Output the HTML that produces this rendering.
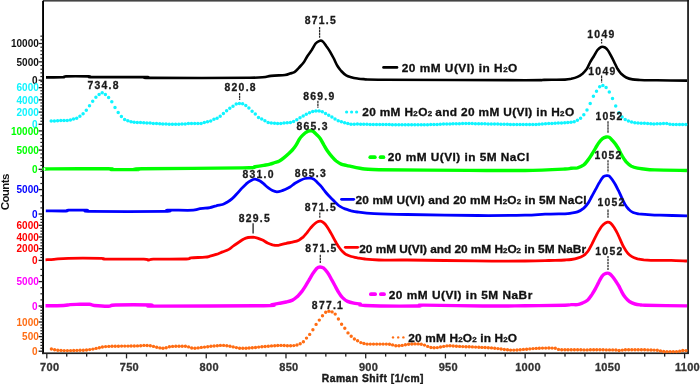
<!DOCTYPE html>
<html><head><meta charset="utf-8"><style>
html,body{margin:0;padding:0;background:#fff;width:700px;height:384px;overflow:hidden}
svg{display:block;font-family:"Liberation Sans",sans-serif;font-weight:bold;will-change:transform}
</style></head><body>
<svg width="700" height="384" viewBox="0 0 700 384">
<rect width="700" height="384" fill="#fff"/>
<rect x="43" y="0" width="645.9" height="1.6" fill="#444"/>
<rect x="42.1" y="0.8" width="1.9" height="353.3" fill="#000"/>
<rect x="687.2" y="0" width="1.7" height="354" fill="#111"/>
<rect x="42.1" y="352.4" width="646.8" height="1.7" fill="#222"/>
<rect x="46.15" y="354" width="1.3" height="4.4" fill="#222"/>
<rect x="66.08" y="354" width="1.3" height="2.6" fill="#222"/>
<rect x="86.01" y="354" width="1.3" height="2.6" fill="#222"/>
<rect x="105.94" y="354" width="1.3" height="2.6" fill="#222"/>
<rect x="125.87" y="354" width="1.3" height="4.4" fill="#222"/>
<rect x="145.81" y="354" width="1.3" height="2.6" fill="#222"/>
<rect x="165.74" y="354" width="1.3" height="2.6" fill="#222"/>
<rect x="185.67" y="354" width="1.3" height="2.6" fill="#222"/>
<rect x="205.60" y="354" width="1.3" height="4.4" fill="#222"/>
<rect x="225.53" y="354" width="1.3" height="2.6" fill="#222"/>
<rect x="245.46" y="354" width="1.3" height="2.6" fill="#222"/>
<rect x="265.39" y="354" width="1.3" height="2.6" fill="#222"/>
<rect x="285.33" y="354" width="1.3" height="4.4" fill="#222"/>
<rect x="305.26" y="354" width="1.3" height="2.6" fill="#222"/>
<rect x="325.19" y="354" width="1.3" height="2.6" fill="#222"/>
<rect x="345.12" y="354" width="1.3" height="2.6" fill="#222"/>
<rect x="365.05" y="354" width="1.3" height="4.4" fill="#222"/>
<rect x="384.98" y="354" width="1.3" height="2.6" fill="#222"/>
<rect x="404.91" y="354" width="1.3" height="2.6" fill="#222"/>
<rect x="424.84" y="354" width="1.3" height="2.6" fill="#222"/>
<rect x="444.78" y="354" width="1.3" height="4.4" fill="#222"/>
<rect x="464.71" y="354" width="1.3" height="2.6" fill="#222"/>
<rect x="484.64" y="354" width="1.3" height="2.6" fill="#222"/>
<rect x="504.57" y="354" width="1.3" height="2.6" fill="#222"/>
<rect x="524.50" y="354" width="1.3" height="4.4" fill="#222"/>
<rect x="544.43" y="354" width="1.3" height="2.6" fill="#222"/>
<rect x="564.36" y="354" width="1.3" height="2.6" fill="#222"/>
<rect x="584.29" y="354" width="1.3" height="2.6" fill="#222"/>
<rect x="604.23" y="354" width="1.3" height="4.4" fill="#222"/>
<rect x="624.16" y="354" width="1.3" height="2.6" fill="#222"/>
<rect x="644.09" y="354" width="1.3" height="2.6" fill="#222"/>
<rect x="664.02" y="354" width="1.3" height="2.6" fill="#222"/>
<rect x="683.95" y="354" width="1.3" height="4.4" fill="#222"/>
<text x="49.7" y="371.0" font-size="11" fill="#333" text-anchor="middle" letter-spacing="0.3" stroke="#333" stroke-width="0.3">700</text>
<text x="129.4" y="371.0" font-size="11" fill="#333" text-anchor="middle" letter-spacing="0.3" stroke="#333" stroke-width="0.3">750</text>
<text x="209.2" y="371.0" font-size="11" fill="#333" text-anchor="middle" letter-spacing="0.3" stroke="#333" stroke-width="0.3">800</text>
<text x="288.9" y="371.0" font-size="11" fill="#333" text-anchor="middle" letter-spacing="0.3" stroke="#333" stroke-width="0.3">850</text>
<text x="368.6" y="371.0" font-size="11" fill="#333" text-anchor="middle" letter-spacing="0.3" stroke="#333" stroke-width="0.3">900</text>
<text x="448.3" y="371.0" font-size="11" fill="#333" text-anchor="middle" letter-spacing="0.3" stroke="#333" stroke-width="0.3">950</text>
<text x="528.0" y="371.0" font-size="11" fill="#333" text-anchor="middle" letter-spacing="0.3" stroke="#333" stroke-width="0.3">1000</text>
<text x="607.8" y="371.0" font-size="11" fill="#333" text-anchor="middle" letter-spacing="0.3" stroke="#333" stroke-width="0.3">1050</text>
<text x="687.5" y="371.0" font-size="11" fill="#333" text-anchor="middle" letter-spacing="0.3" stroke="#333" stroke-width="0.3">1100</text>
<text x="372.9" y="382.2" font-size="10.3" fill="#1a1a1a" text-anchor="middle" letter-spacing="0.5" stroke="#1a1a1a" stroke-width="0.4">Raman Shift [1/cm]</text>
<text transform="translate(9.1,192.3) rotate(-90)" font-size="11.5" fill="#111" text-anchor="middle" letter-spacing="-0.6">Counts</text>
<rect x="38.6" y="79.55" width="4" height="1.3" fill="#222"/>
<rect x="40.4" y="75.93" width="2.2" height="1.2" fill="#222"/>
<rect x="40.4" y="72.26" width="2.2" height="1.2" fill="#222"/>
<rect x="40.4" y="68.59" width="2.2" height="1.2" fill="#222"/>
<rect x="40.4" y="64.92" width="2.2" height="1.2" fill="#222"/>
<rect x="38.6" y="61.20" width="4" height="1.3" fill="#222"/>
<rect x="40.4" y="57.58" width="2.2" height="1.2" fill="#222"/>
<rect x="40.4" y="53.91" width="2.2" height="1.2" fill="#222"/>
<rect x="40.4" y="50.24" width="2.2" height="1.2" fill="#222"/>
<rect x="40.4" y="46.57" width="2.2" height="1.2" fill="#222"/>
<rect x="38.6" y="42.85" width="4" height="1.3" fill="#222"/>
<rect x="40.4" y="39.23" width="2.2" height="1.2" fill="#222"/>
<rect x="40.4" y="35.56" width="2.2" height="1.2" fill="#222"/>
<text x="37.5" y="83.8" font-size="10" fill="#111" text-anchor="end" letter-spacing="0" >0</text>
<text x="38.8" y="65.5" font-size="10" fill="#111" text-anchor="end" letter-spacing="0" >5000</text>
<text x="38.8" y="47.1" font-size="10" fill="#111" text-anchor="end" letter-spacing="0" >10000</text>
<rect x="38.6" y="123.65" width="4" height="1.3" fill="#222"/>
<rect x="40.4" y="120.65" width="2.2" height="1.2" fill="#222"/>
<rect x="40.4" y="117.60" width="2.2" height="1.2" fill="#222"/>
<rect x="40.4" y="114.55" width="2.2" height="1.2" fill="#222"/>
<rect x="38.6" y="111.45" width="4" height="1.3" fill="#222"/>
<rect x="40.4" y="108.45" width="2.2" height="1.2" fill="#222"/>
<rect x="40.4" y="105.40" width="2.2" height="1.2" fill="#222"/>
<rect x="40.4" y="102.35" width="2.2" height="1.2" fill="#222"/>
<rect x="38.6" y="99.25" width="4" height="1.3" fill="#222"/>
<rect x="40.4" y="96.25" width="2.2" height="1.2" fill="#222"/>
<rect x="40.4" y="93.20" width="2.2" height="1.2" fill="#222"/>
<rect x="40.4" y="90.15" width="2.2" height="1.2" fill="#222"/>
<rect x="38.6" y="87.05" width="4" height="1.3" fill="#222"/>
<rect x="40.4" y="84.05" width="2.2" height="1.2" fill="#222"/>
<rect x="40.4" y="81.00" width="2.2" height="1.2" fill="#222"/>
<text x="37.5" y="127.9" font-size="10" fill="#10f4ff" text-anchor="end" letter-spacing="0" >0</text>
<text x="38.8" y="115.7" font-size="10" fill="#10f4ff" text-anchor="end" letter-spacing="0" >2000</text>
<text x="38.8" y="103.5" font-size="10" fill="#10f4ff" text-anchor="end" letter-spacing="0" >4000</text>
<text x="38.8" y="91.3" font-size="10" fill="#10f4ff" text-anchor="end" letter-spacing="0" >6000</text>
<rect x="38.6" y="168.65" width="4" height="1.3" fill="#222"/>
<rect x="40.4" y="164.86" width="2.2" height="1.2" fill="#222"/>
<rect x="40.4" y="161.02" width="2.2" height="1.2" fill="#222"/>
<rect x="40.4" y="157.18" width="2.2" height="1.2" fill="#222"/>
<rect x="40.4" y="153.34" width="2.2" height="1.2" fill="#222"/>
<rect x="38.6" y="149.45" width="4" height="1.3" fill="#222"/>
<rect x="40.4" y="145.66" width="2.2" height="1.2" fill="#222"/>
<rect x="40.4" y="141.82" width="2.2" height="1.2" fill="#222"/>
<rect x="40.4" y="137.98" width="2.2" height="1.2" fill="#222"/>
<rect x="40.4" y="134.14" width="2.2" height="1.2" fill="#222"/>
<rect x="38.6" y="130.25" width="4" height="1.3" fill="#222"/>
<text x="37.5" y="172.9" font-size="10" fill="#00ff00" text-anchor="end" letter-spacing="0" >0</text>
<text x="38.8" y="153.7" font-size="10" fill="#00ff00" text-anchor="end" letter-spacing="0" >5000</text>
<text x="38.8" y="134.5" font-size="10" fill="#00ff00" text-anchor="end" letter-spacing="0" >10000</text>
<rect x="38.6" y="213.35" width="4" height="1.3" fill="#222"/>
<rect x="40.4" y="207.30" width="2.2" height="1.2" fill="#222"/>
<rect x="40.4" y="201.20" width="2.2" height="1.2" fill="#222"/>
<rect x="40.4" y="195.10" width="2.2" height="1.2" fill="#222"/>
<rect x="38.6" y="188.95" width="4" height="1.3" fill="#222"/>
<rect x="40.4" y="182.90" width="2.2" height="1.2" fill="#222"/>
<rect x="40.4" y="176.80" width="2.2" height="1.2" fill="#222"/>
<rect x="40.4" y="170.70" width="2.2" height="1.2" fill="#222"/>
<text x="37.5" y="217.6" font-size="10" fill="#0000ff" text-anchor="end" letter-spacing="0" >0</text>
<text x="38.8" y="193.2" font-size="10" fill="#0000ff" text-anchor="end" letter-spacing="0" >5000</text>
<rect x="38.6" y="259.75" width="4" height="1.3" fill="#222"/>
<rect x="40.4" y="256.87" width="2.2" height="1.2" fill="#222"/>
<rect x="40.4" y="253.95" width="2.2" height="1.2" fill="#222"/>
<rect x="40.4" y="251.02" width="2.2" height="1.2" fill="#222"/>
<rect x="38.6" y="248.05" width="4" height="1.3" fill="#222"/>
<rect x="40.4" y="245.17" width="2.2" height="1.2" fill="#222"/>
<rect x="40.4" y="242.25" width="2.2" height="1.2" fill="#222"/>
<rect x="40.4" y="239.32" width="2.2" height="1.2" fill="#222"/>
<rect x="38.6" y="236.35" width="4" height="1.3" fill="#222"/>
<rect x="40.4" y="233.47" width="2.2" height="1.2" fill="#222"/>
<rect x="40.4" y="230.55" width="2.2" height="1.2" fill="#222"/>
<rect x="40.4" y="227.62" width="2.2" height="1.2" fill="#222"/>
<rect x="38.6" y="224.65" width="4" height="1.3" fill="#222"/>
<rect x="40.4" y="221.77" width="2.2" height="1.2" fill="#222"/>
<rect x="40.4" y="218.85" width="2.2" height="1.2" fill="#222"/>
<rect x="40.4" y="215.92" width="2.2" height="1.2" fill="#222"/>
<text x="37.5" y="264.0" font-size="10" fill="#ff0000" text-anchor="end" letter-spacing="0" >0</text>
<text x="38.8" y="252.3" font-size="10" fill="#ff0000" text-anchor="end" letter-spacing="0" >2000</text>
<text x="38.8" y="240.6" font-size="10" fill="#ff0000" text-anchor="end" letter-spacing="0" >4000</text>
<text x="38.8" y="228.9" font-size="10" fill="#ff0000" text-anchor="end" letter-spacing="0" >6000</text>
<rect x="38.6" y="305.35" width="4" height="1.3" fill="#222"/>
<rect x="40.4" y="299.30" width="2.2" height="1.2" fill="#222"/>
<rect x="40.4" y="293.20" width="2.2" height="1.2" fill="#222"/>
<rect x="40.4" y="287.10" width="2.2" height="1.2" fill="#222"/>
<rect x="38.6" y="280.95" width="4" height="1.3" fill="#222"/>
<rect x="40.4" y="274.90" width="2.2" height="1.2" fill="#222"/>
<rect x="40.4" y="268.80" width="2.2" height="1.2" fill="#222"/>
<text x="37.5" y="309.6" font-size="10" fill="#ff00ff" text-anchor="end" letter-spacing="0" >0</text>
<text x="38.8" y="285.2" font-size="10" fill="#ff00ff" text-anchor="end" letter-spacing="0" >5000</text>
<rect x="38.6" y="350.55" width="4" height="1.3" fill="#222"/>
<rect x="40.4" y="347.68" width="2.2" height="1.2" fill="#222"/>
<rect x="40.4" y="344.76" width="2.2" height="1.2" fill="#222"/>
<rect x="40.4" y="341.84" width="2.2" height="1.2" fill="#222"/>
<rect x="40.4" y="338.92" width="2.2" height="1.2" fill="#222"/>
<rect x="38.6" y="335.95" width="4" height="1.3" fill="#222"/>
<rect x="40.4" y="333.08" width="2.2" height="1.2" fill="#222"/>
<rect x="40.4" y="330.16" width="2.2" height="1.2" fill="#222"/>
<rect x="40.4" y="327.24" width="2.2" height="1.2" fill="#222"/>
<rect x="40.4" y="324.32" width="2.2" height="1.2" fill="#222"/>
<rect x="38.6" y="321.35" width="4" height="1.3" fill="#222"/>
<rect x="40.4" y="318.48" width="2.2" height="1.2" fill="#222"/>
<rect x="40.4" y="315.56" width="2.2" height="1.2" fill="#222"/>
<rect x="40.4" y="312.64" width="2.2" height="1.2" fill="#222"/>
<rect x="40.4" y="309.72" width="2.2" height="1.2" fill="#222"/>
<rect x="40.4" y="306.80" width="2.2" height="1.2" fill="#222"/>
<text x="37.5" y="354.8" font-size="10" fill="#ff6d14" text-anchor="end" letter-spacing="0" >0</text>
<text x="38.8" y="340.2" font-size="10" fill="#ff6d14" text-anchor="end" letter-spacing="0" >500</text>
<text x="38.8" y="325.6" font-size="10" fill="#ff6d14" text-anchor="end" letter-spacing="0" >1000</text>
<path d="M46.0,77.4 C48.8,77.4 59.7,77.5 63.0,77.3 C66.3,77.1 61.7,76.6 66.0,76.4 C70.3,76.2 84.5,76.3 89.0,76.4 C93.5,76.5 83.5,77.0 93.0,77.1 C102.5,77.2 136.3,77.0 146.0,77.1 C155.7,77.2 133.7,77.8 151.0,77.9 C168.3,78.0 230.0,78.1 250.0,77.8 C270.0,77.5 265.2,76.4 271.0,75.9 C276.8,75.4 281.8,75.4 285.0,75.0 C288.2,74.6 288.4,74.0 290.0,73.5 C291.6,73.0 292.9,73.1 294.4,72.2 C295.9,71.3 297.2,69.6 298.8,67.9 C300.3,66.2 302.3,64.2 303.8,62.2 C305.2,60.3 306.1,58.1 307.5,56.0 C308.9,53.9 310.5,51.8 311.9,49.8 C313.2,47.7 314.4,45.0 315.6,43.5 C316.9,42.0 318.2,41.3 319.4,40.9 C320.5,40.5 321.4,40.4 322.5,41.3 C323.6,42.1 325.0,44.3 326.2,46.0 C327.5,47.7 328.8,49.5 330.0,51.6 C331.2,53.7 332.5,56.1 333.8,58.5 C335.0,60.9 336.2,63.9 337.5,66.0 C338.8,68.1 339.8,69.4 341.2,71.0 C342.7,72.6 344.6,74.4 346.2,75.4 C347.9,76.4 349.4,76.7 351.2,77.2 C353.1,77.8 355.4,78.2 357.5,78.5 C359.6,78.8 359.3,78.9 363.8,79.1 C368.2,79.3 357.1,79.5 384.0,79.7 C410.9,79.9 498.3,80.2 525.0,80.2 C551.7,80.2 537.3,80.0 544.0,79.9 C550.7,79.8 560.5,79.8 565.0,79.6 C569.5,79.4 569.2,79.2 571.2,78.8 C573.3,78.3 575.6,77.7 577.5,76.9 C579.4,76.1 580.9,75.1 582.5,73.8 C584.1,72.4 585.6,70.6 586.9,68.8 C588.1,66.9 588.9,64.6 590.0,62.5 C591.1,60.4 592.5,58.3 593.8,56.2 C595.0,54.2 596.2,51.6 597.5,50.0 C598.8,48.4 600.0,47.3 601.2,46.9 C602.5,46.5 603.9,46.9 605.0,47.5 C606.1,48.1 607.1,49.1 608.1,50.6 C609.1,52.1 610.2,54.3 611.2,56.2 C612.3,58.2 613.4,60.4 614.4,62.5 C615.4,64.6 616.4,66.9 617.5,68.8 C618.6,70.6 619.8,72.3 621.2,73.8 C622.7,75.2 624.4,76.6 626.2,77.5 C628.1,78.4 630.2,79.0 632.5,79.4 C634.8,79.8 635.9,79.8 640.0,80.0 C644.1,80.2 649.2,80.2 657.0,80.3 C664.8,80.4 682.0,80.5 687.0,80.6" fill="none" stroke="#000000" stroke-width="2.6" stroke-linejoin="round"/>
<path d="M51.2,121.1h0M54.4,121.0h0M57.6,120.8h0M60.8,120.6h0M64.0,120.5h0M67.2,120.4h0M70.4,119.9h0M73.5,118.9h0M76.7,118.2h0M79.9,116.2h0M83.1,113.7h0M86.3,110.2h0M89.5,105.7h0M92.7,101.2h0M95.9,97.3h0M99.1,94.6h0M102.2,92.8h0M105.4,94.5h0M108.6,97.4h0M111.8,101.8h0M115.0,107.5h0M118.2,112.6h0M121.4,116.4h0M124.6,119.5h0M127.8,120.7h0M131.0,121.8h0M134.1,122.2h0M137.3,122.4h0M140.5,122.6h0M143.7,122.8h0M146.9,123.0h0M150.1,123.1h0M153.3,123.4h0M156.5,123.6h0M159.7,123.7h0M162.8,123.9h0M166.0,124.1h0M169.2,124.2h0M172.4,124.2h0M175.6,124.2h0M178.8,124.2h0M182.0,124.1h0M185.2,123.9h0M188.4,123.6h0M191.5,123.4h0M194.7,123.4h0M197.9,123.4h0M201.1,123.4h0M204.3,122.6h0M207.5,121.8h0M210.7,121.0h0M213.9,119.3h0M217.1,118.3h0M220.2,116.3h0M223.4,113.4h0M226.6,110.8h0M229.8,108.2h0M233.0,106.2h0M236.2,104.1h0M239.4,103.4h0M242.6,103.8h0M245.8,105.5h0M248.9,108.1h0M252.1,111.2h0M255.3,113.9h0M258.5,117.4h0M261.7,119.1h0M264.9,120.7h0M268.1,122.4h0M271.3,123.0h0M274.5,123.3h0M277.6,123.5h0M280.8,123.4h0M284.0,123.1h0M287.2,122.8h0M290.4,122.5h0M293.6,121.5h0M296.8,119.8h0M300.0,117.8h0M303.2,115.9h0M306.3,114.2h0M309.5,112.7h0M312.7,111.5h0M315.9,110.9h0M319.1,110.9h0M322.3,111.7h0M325.5,113.6h0M328.7,115.2h0M331.9,117.0h0M335.0,119.0h0M338.2,120.8h0M341.4,121.8h0M344.6,122.8h0M347.8,123.6h0M351.0,124.2h0M354.2,124.2h0M357.4,124.0h0M360.6,124.2h0M363.7,124.3h0M366.9,124.3h0M370.1,124.4h0M373.3,124.4h0M376.5,124.5h0M379.7,124.5h0M382.9,124.6h0M386.1,124.6h0M389.3,124.6h0M392.4,124.7h0M395.6,124.7h0M398.8,124.7h0M402.0,124.8h0M405.2,124.8h0M408.4,124.8h0M411.6,124.8h0M414.8,124.8h0M418.0,124.8h0M421.2,124.8h0M424.3,124.7h0M427.5,124.7h0M430.7,124.6h0M433.9,124.5h0M437.1,124.4h0M440.3,124.2h0M443.5,124.1h0M446.7,124.0h0M449.9,123.9h0M453.0,123.8h0M456.2,123.7h0M459.4,123.7h0M462.6,123.6h0M465.8,123.6h0M469.0,123.6h0M472.2,123.6h0M475.4,123.7h0M478.6,123.7h0M481.7,123.8h0M484.9,123.8h0M488.1,123.9h0M491.3,124.0h0M494.5,124.0h0M497.7,124.1h0M500.9,124.2h0M504.1,124.3h0M507.3,124.3h0M510.4,124.4h0M513.6,124.5h0M516.8,124.5h0M520.0,124.6h0M523.2,124.6h0M526.4,124.6h0M529.6,124.6h0M532.8,124.5h0M536.0,124.4h0M539.1,124.2h0M542.3,124.0h0M545.5,123.8h0M548.7,123.6h0M551.9,123.4h0M555.1,123.3h0M558.3,123.1h0M561.5,122.9h0M564.7,122.7h0M567.8,122.5h0M571.0,122.2h0M574.2,121.8h0M577.4,120.2h0M580.6,118.2h0M583.8,114.7h0M587.0,110.0h0M590.2,103.5h0M593.4,96.2h0M596.5,91.3h0M599.7,86.8h0M602.9,85.6h0M606.1,87.6h0M609.3,92.0h0M612.5,98.6h0M615.7,105.9h0M618.9,112.7h0M622.1,117.1h0M625.2,119.6h0M628.4,121.1h0M631.6,122.0h0M634.8,122.7h0M638.0,123.1h0M641.2,123.2h0M644.4,123.2h0M647.6,123.5h0M650.8,123.8h0M653.9,123.9h0M657.1,123.8h0M660.3,123.8h0M663.5,123.6h0M666.7,123.5h0M669.9,124.2h0M673.1,124.4h0M676.3,124.5h0M679.5,124.5h0M682.6,124.5h0M685.8,124.5h0" fill="none" stroke="#10f4ff" stroke-width="3.5" stroke-linecap="round"/>
<path d="M45.3,169.3 C46.1,169.2 39.5,169.0 50.0,168.9 C60.5,168.8 97.7,168.7 108.0,168.8 C118.3,168.9 107.0,169.4 112.0,169.5 C117.0,169.6 133.0,169.6 138.0,169.5 C143.0,169.4 124.6,169.1 142.0,168.8 C159.4,168.5 223.7,168.2 242.5,167.9 C261.3,167.6 251.5,167.2 255.0,166.8 C258.5,166.4 261.2,165.9 263.7,165.4 C266.2,164.9 268.1,164.6 270.0,164.1 C271.9,163.6 273.4,163.0 275.0,162.5 C276.6,162.0 277.9,161.8 279.4,161.0 C280.9,160.2 282.2,159.2 283.8,157.9 C285.3,156.7 287.2,155.0 288.8,153.5 C290.3,152.0 291.9,150.6 293.1,149.1 C294.4,147.6 295.2,146.4 296.2,144.8 C297.3,143.1 298.4,140.7 299.4,139.1 C300.4,137.5 301.4,136.5 302.5,135.4 C303.6,134.3 305.0,133.0 306.2,132.2 C307.5,131.5 308.9,130.9 310.0,130.8 C311.1,130.6 312.0,130.6 313.1,131.2 C314.2,131.9 315.6,133.4 316.9,134.8 C318.1,136.1 319.5,137.4 320.6,139.1 C321.7,140.8 322.6,142.8 323.8,144.8 C324.9,146.7 326.1,149.0 327.5,151.0 C328.9,153.0 330.4,154.9 331.9,156.6 C333.4,158.3 334.7,159.8 336.2,161.0 C337.8,162.2 339.6,163.4 341.2,164.1 C342.9,164.8 344.8,165.0 346.2,165.4 C347.7,165.8 347.7,165.8 350.0,166.2 C352.3,166.7 355.2,167.7 360.0,168.3 C364.8,168.9 360.9,169.3 379.0,169.7 C397.1,170.0 444.2,170.3 468.5,170.4 C492.8,170.5 508.9,170.7 525.0,170.5 C541.1,170.3 557.3,169.4 565.0,169.0 C572.7,168.6 569.2,168.5 571.2,168.2 C573.3,168.0 575.4,168.3 577.5,167.8 C579.6,167.2 582.0,166.2 583.8,164.9 C585.5,163.6 586.7,161.7 588.1,159.9 C589.5,158.1 590.6,156.2 591.9,154.2 C593.1,152.3 594.5,149.9 595.6,148.0 C596.7,146.1 597.6,144.3 598.8,142.8 C599.9,141.2 601.2,139.6 602.5,138.6 C603.8,137.6 605.1,137.2 606.2,137.0 C607.4,136.8 608.4,136.8 609.4,137.4 C610.4,138.0 611.5,139.4 612.5,140.5 C613.5,141.6 614.6,142.8 615.6,144.2 C616.6,145.7 617.7,147.4 618.8,149.2 C619.8,151.1 620.6,153.4 621.9,155.5 C623.1,157.6 624.7,160.0 626.2,161.8 C627.8,163.5 629.4,165.0 631.2,166.1 C633.1,167.2 635.4,167.8 637.5,168.2 C639.6,168.7 640.9,168.7 643.8,169.0 C646.6,169.3 647.5,169.7 654.7,169.9 C661.9,170.2 681.6,170.4 687.0,170.5" fill="none" stroke="#00ff00" stroke-width="3.4" stroke-linejoin="round"/>
<path d="M45.8,210.9 C49.2,210.9 62.2,211.1 66.0,211.0 C69.8,210.9 64.8,210.3 68.3,210.2 C71.8,210.1 83.3,210.0 87.0,210.2 C90.7,210.4 77.7,211.2 90.7,211.4 C103.7,211.6 152.2,211.6 165.0,211.4 C177.8,211.2 162.6,210.4 167.3,210.2 C172.0,210.0 187.9,210.5 193.3,210.2 C198.8,209.9 198.1,208.9 200.0,208.6 C201.9,208.3 203.3,208.4 205.0,208.2 C206.7,208.1 208.1,208.0 210.0,207.6 C211.9,207.2 214.2,206.3 216.2,205.8 C218.3,205.2 220.6,205.1 222.5,204.5 C224.4,203.9 225.9,202.9 227.5,202.0 C229.1,201.1 230.4,200.2 231.9,198.9 C233.4,197.7 234.7,196.2 236.2,194.5 C237.8,192.8 239.6,190.7 241.2,188.9 C242.9,187.1 244.7,185.3 246.2,183.9 C247.8,182.5 249.1,181.6 250.6,180.8 C252.1,179.9 253.4,179.1 255.0,179.1 C256.6,179.1 258.5,180.2 260.0,181.0 C261.5,181.8 262.4,182.8 263.8,183.9 C265.1,185.0 266.6,186.5 268.1,187.6 C269.6,188.7 271.0,189.8 272.5,190.5 C274.0,191.2 275.4,191.7 276.9,191.8 C278.4,191.8 279.9,191.4 281.2,191.0 C282.6,190.6 283.5,190.2 285.0,189.5 C286.5,188.8 288.3,188.0 290.0,187.0 C291.7,186.0 293.3,184.3 295.0,183.2 C296.7,182.2 298.3,181.3 300.0,180.5 C301.7,179.7 303.3,178.9 305.0,178.5 C306.7,178.1 308.5,178.1 310.0,178.2 C311.5,178.4 312.5,178.5 313.8,179.2 C315.0,180.0 316.2,181.4 317.5,182.6 C318.8,183.8 320.0,184.9 321.2,186.4 C322.5,187.9 323.8,189.8 325.0,191.4 C326.2,193.0 327.5,194.4 328.8,195.8 C330.0,197.1 331.2,198.2 332.5,199.5 C333.8,200.8 335.0,202.1 336.2,203.2 C337.5,204.4 338.5,205.5 340.0,206.4 C341.5,207.3 343.1,208.2 345.0,208.9 C346.9,209.6 349.2,210.2 351.2,210.8 C353.3,211.3 353.7,211.5 357.5,212.0 C361.3,212.5 365.9,213.2 374.2,213.6 C382.5,214.0 389.9,214.2 407.2,214.5 C424.5,214.8 458.3,215.4 477.9,215.5 C497.5,215.6 513.8,215.4 525.0,215.2 C536.2,215.0 538.3,214.4 545.0,214.2 C551.7,214.0 560.6,213.9 565.0,213.8 C569.4,213.6 569.2,213.4 571.2,213.1 C573.3,212.8 575.4,212.7 577.5,211.9 C579.6,211.1 582.0,209.6 583.8,208.1 C585.5,206.6 586.7,205.1 588.1,203.1 C589.5,201.1 590.6,198.5 591.9,196.2 C593.1,194.0 594.4,191.7 595.6,189.4 C596.9,187.1 598.1,184.6 599.4,182.5 C600.6,180.4 601.9,178.1 603.1,176.9 C604.4,175.8 605.9,175.7 606.9,175.6 C607.9,175.5 608.5,175.5 609.4,176.2 C610.3,177.0 611.5,178.5 612.5,180.0 C613.5,181.5 614.6,183.1 615.6,185.0 C616.6,186.9 617.7,189.1 618.8,191.2 C619.8,193.4 620.9,195.9 621.9,198.1 C622.9,200.3 623.9,202.5 625.0,204.4 C626.1,206.3 627.4,208.1 628.8,209.4 C630.1,210.8 631.4,211.8 633.1,212.5 C634.8,213.2 636.8,213.4 638.8,213.8 C640.7,214.1 641.5,214.2 645.0,214.4 C648.5,214.6 653.0,215.0 660.0,215.2 C667.0,215.4 682.5,215.7 687.0,215.8" fill="none" stroke="#0000ff" stroke-width="2.8" stroke-linejoin="round"/>
<path d="M45.5,259.8 C46.9,259.7 50.2,259.6 54.0,259.3 C57.8,259.1 60.4,258.5 68.3,258.3 C76.2,258.1 95.0,258.2 101.3,258.3 C107.6,258.4 98.9,259.1 106.0,259.2 C113.1,259.3 136.7,259.0 143.8,259.2 C150.9,259.4 146.9,260.2 148.5,260.2 C150.1,260.2 146.9,259.4 153.2,259.2 C159.5,259.0 179.9,259.2 186.2,259.0 C192.5,258.8 187.9,258.1 191.0,257.8 C194.1,257.5 201.8,257.5 205.0,257.2 C208.2,257.0 208.1,256.7 210.0,256.2 C211.9,255.8 214.2,255.1 216.2,254.4 C218.3,253.7 220.4,252.7 222.5,251.9 C224.6,251.1 226.9,250.5 228.8,249.4 C230.6,248.3 232.1,246.8 233.8,245.6 C235.4,244.4 237.1,243.3 238.8,242.2 C240.4,241.2 242.2,239.8 243.8,239.0 C245.3,238.2 246.5,237.8 248.1,237.5 C249.7,237.2 251.5,237.2 253.1,237.2 C254.7,237.3 255.9,237.6 257.5,238.1 C259.1,238.6 260.8,239.2 262.5,240.0 C264.2,240.8 265.8,242.1 267.5,242.9 C269.2,243.7 270.8,244.3 272.5,244.8 C274.2,245.2 276.2,245.4 277.5,245.4 C278.8,245.4 278.5,245.2 280.0,244.9 C281.5,244.6 284.2,243.9 286.2,243.4 C288.3,242.9 290.4,242.6 292.5,242.1 C294.6,241.6 297.0,241.1 298.8,240.2 C300.5,239.4 301.7,238.3 303.1,237.1 C304.5,235.8 305.6,234.3 306.9,232.8 C308.1,231.2 309.4,229.5 310.6,228.0 C311.9,226.5 313.2,225.0 314.4,224.0 C315.5,223.0 316.5,222.2 317.5,221.8 C318.5,221.3 319.6,221.1 320.6,221.2 C321.6,221.4 322.7,221.9 323.8,222.8 C324.8,223.6 325.9,225.0 326.9,226.5 C327.9,228.0 329.0,229.7 330.0,231.5 C331.0,233.3 332.1,235.2 333.1,237.1 C334.1,239.0 335.2,241.0 336.2,242.8 C337.3,244.5 338.4,246.3 339.4,247.8 C340.4,249.2 341.4,250.4 342.5,251.5 C343.6,252.6 344.8,253.8 346.2,254.6 C347.7,255.4 349.4,256.0 351.2,256.5 C353.1,257.0 355.2,257.3 357.5,257.8 C359.8,258.2 361.4,258.6 365.0,259.0 C368.6,259.4 371.9,259.8 378.9,260.0 C385.9,260.2 391.1,259.9 407.2,260.0 C423.3,260.1 456.0,260.7 475.6,260.9 C495.2,261.1 512.8,261.1 525.0,261.0 C537.2,260.9 541.9,260.7 548.6,260.5 C555.3,260.3 561.2,260.2 565.0,260.0 C568.8,259.8 569.2,259.8 571.2,259.5 C573.3,259.2 575.4,258.9 577.5,258.2 C579.6,257.6 582.0,256.6 583.8,255.4 C585.5,254.2 586.7,252.9 588.1,251.0 C589.5,249.1 590.6,246.5 591.9,244.1 C593.1,241.7 594.4,239.0 595.6,236.6 C596.9,234.2 598.1,231.7 599.4,229.8 C600.6,227.8 601.8,226.0 603.1,224.8 C604.5,223.5 606.2,222.5 607.5,222.2 C608.8,222.0 609.5,222.3 610.6,223.2 C611.8,224.2 613.2,226.2 614.4,227.9 C615.5,229.6 616.5,231.4 617.5,233.5 C618.5,235.6 619.6,238.1 620.6,240.4 C621.6,242.7 622.6,245.2 623.8,247.2 C624.9,249.3 626.1,251.3 627.5,252.9 C628.9,254.5 630.2,255.6 631.9,256.6 C633.6,257.6 635.5,258.2 637.5,258.8 C639.5,259.3 640.5,259.5 643.8,259.8 C647.0,260.0 652.5,260.3 657.1,260.4 C661.7,260.5 666.2,260.2 671.2,260.3 C676.2,260.4 684.4,260.9 687.0,261.0" fill="none" stroke="#ff0000" stroke-width="2.8" stroke-linejoin="round"/>
<path d="M45.5,305.7 C48.5,305.7 59.5,305.7 63.6,305.5 C67.7,305.3 67.3,304.8 70.0,304.6 C72.7,304.4 76.8,304.4 80.0,304.3 C83.2,304.2 87.1,304.1 89.5,304.3 C91.9,304.5 91.0,305.2 94.2,305.5 C97.4,305.8 104.9,306.4 108.4,306.3 C112.0,306.2 108.4,305.2 115.5,305.0 C122.6,304.8 144.1,304.8 150.8,305.0 C157.5,305.2 136.8,306.0 155.6,306.1 C174.4,306.2 244.3,305.9 263.7,305.7 C283.1,305.4 269.3,305.0 272.0,304.6 C274.7,304.2 277.6,303.7 280.0,303.2 C282.4,302.8 284.2,302.5 286.2,302.0 C288.3,301.5 290.6,301.0 292.5,300.1 C294.4,299.2 295.9,297.8 297.5,296.4 C299.1,294.9 300.5,293.2 301.9,291.4 C303.2,289.6 304.4,287.7 305.6,285.8 C306.9,283.8 308.1,281.6 309.4,279.5 C310.6,277.4 311.9,275.1 313.1,273.2 C314.4,271.4 315.8,269.3 316.9,268.2 C318.0,267.2 318.9,267.0 320.0,267.0 C321.1,267.0 322.5,267.3 323.8,268.2 C325.0,269.2 326.2,270.8 327.5,272.6 C328.8,274.4 330.0,276.7 331.2,278.9 C332.5,281.1 333.8,283.5 335.0,285.8 C336.2,288.0 337.5,290.6 338.8,292.6 C340.0,294.6 341.0,296.1 342.5,297.6 C344.0,299.1 345.6,300.5 347.5,301.4 C349.4,302.3 351.7,302.8 353.8,303.2 C355.8,303.7 358.1,303.5 360.0,303.9 C361.9,304.3 355.6,305.1 365.0,305.5 C374.4,305.9 406.8,306.1 416.6,306.0 C426.4,305.9 412.7,305.1 423.7,305.1 C434.7,305.1 465.7,305.9 482.6,306.0 C499.5,306.1 511.3,305.9 525.0,305.8 C538.7,305.7 557.3,305.4 565.0,305.2 C572.7,305.1 569.2,304.7 571.2,304.6 C573.3,304.5 575.6,304.9 577.5,304.6 C579.4,304.3 580.8,303.7 582.5,303.0 C584.2,302.3 585.9,301.6 587.5,300.2 C589.1,298.9 590.5,296.6 591.9,294.6 C593.2,292.6 594.5,290.5 595.6,288.4 C596.7,286.3 597.7,284.1 598.8,282.1 C599.8,280.1 600.9,277.9 601.9,276.5 C602.9,275.1 603.9,274.3 605.0,273.8 C606.1,273.2 607.6,273.0 608.8,273.4 C609.9,273.8 610.8,274.6 611.9,275.9 C613.0,277.1 614.5,279.2 615.6,280.9 C616.7,282.6 617.7,284.0 618.8,285.9 C619.8,287.8 620.9,290.2 621.9,292.1 C622.9,294.0 623.8,295.5 625.0,297.1 C626.2,298.7 627.7,300.4 629.4,301.5 C631.1,302.6 633.0,303.4 635.0,304.0 C637.0,304.6 639.6,304.8 641.2,305.0 C642.9,305.2 637.4,305.1 645.0,305.2 C652.6,305.4 680.0,305.8 687.0,305.9" fill="none" stroke="#ff00ff" stroke-width="3.4" stroke-linejoin="round"/>
<path d="M51.4,349.0h0M54.6,349.8h0M57.8,350.2h0M61.0,350.4h0M64.2,350.6h0M67.4,350.6h0M70.6,350.6h0M73.7,350.5h0M76.9,350.4h0M80.1,350.3h0M83.3,350.2h0M86.5,350.0h0M89.7,349.6h0M92.9,349.1h0M96.1,348.4h0M99.3,347.8h0M102.4,347.0h0M105.6,346.6h0M108.8,346.4h0M112.0,346.3h0M115.2,346.2h0M118.4,346.2h0M121.6,346.1h0M124.8,346.1h0M128.0,346.1h0M131.1,346.0h0M134.3,346.0h0M137.5,345.9h0M140.7,345.8h0M143.9,345.4h0M147.1,345.5h0M150.3,345.8h0M153.5,346.4h0M156.7,347.2h0M159.9,347.9h0M163.0,348.2h0M166.2,347.7h0M169.4,346.8h0M172.6,346.4h0M175.8,346.2h0M179.0,346.2h0M182.2,346.2h0M185.4,346.3h0M188.6,346.9h0M191.7,348.0h0M194.9,348.2h0M198.1,347.9h0M201.3,347.4h0M204.5,347.1h0M207.7,346.7h0M210.9,346.3h0M214.1,346.0h0M217.3,345.7h0M220.4,345.4h0M223.6,345.4h0M226.8,345.8h0M230.0,346.3h0M233.2,346.9h0M236.4,347.6h0M239.6,348.2h0M242.8,348.3h0M246.0,348.2h0M249.1,348.0h0M252.3,347.8h0M255.5,347.5h0M258.7,347.1h0M261.9,346.8h0M265.1,346.5h0M268.3,346.2h0M271.5,345.9h0M274.7,345.7h0M277.8,345.5h0M281.0,345.4h0M284.2,345.5h0M287.4,345.7h0M290.6,345.8h0M293.8,345.6h0M297.0,345.0h0M300.2,343.8h0M303.4,341.7h0M306.5,338.1h0M309.7,334.4h0M312.9,329.8h0M316.1,324.4h0M319.3,320.1h0M322.5,315.7h0M325.7,312.2h0M328.9,311.3h0M332.1,311.9h0M335.2,314.1h0M338.4,319.0h0M341.6,324.3h0M344.8,328.3h0M348.0,332.9h0M351.2,336.3h0M354.4,339.0h0M357.6,340.8h0M360.8,342.6h0M363.9,343.5h0M367.1,344.1h0M370.3,344.1h0M373.5,344.1h0M376.7,344.1h0M379.9,344.1h0M383.1,344.1h0M386.3,344.1h0M389.5,344.3h0M392.6,344.9h0M395.8,345.8h0M399.0,345.8h0M402.2,345.4h0M405.4,344.8h0M408.6,344.3h0M411.8,344.0h0M415.0,343.9h0M418.2,343.9h0M421.3,344.2h0M424.5,345.1h0M427.7,346.4h0M430.9,347.5h0M434.1,347.8h0M437.3,347.6h0M440.5,347.0h0M443.7,346.4h0M446.9,345.9h0M450.0,345.8h0M453.2,346.0h0M456.4,346.3h0M459.6,346.4h0M462.8,346.6h0M466.0,346.7h0M469.2,346.8h0M472.4,346.9h0M475.6,347.1h0M478.8,347.2h0M481.9,347.4h0M485.1,347.5h0M488.3,347.7h0M491.5,347.9h0M494.7,348.3h0M497.9,348.6h0M501.1,349.0h0M504.3,349.5h0M507.5,349.8h0M510.6,350.1h0M513.8,350.1h0M517.0,350.0h0M520.2,349.7h0M523.4,349.4h0M526.6,349.2h0M529.8,348.9h0M533.0,348.6h0M536.2,348.4h0M539.3,348.2h0M542.5,348.1h0M545.7,348.1h0M548.9,348.0h0M552.1,348.1h0M555.3,348.2h0M558.5,349.4h0M561.7,349.7h0M564.9,349.7h0M568.0,349.8h0M571.2,349.8h0M574.4,349.8h0M577.6,349.8h0M580.8,349.8h0M584.0,349.9h0M587.2,349.9h0M590.4,349.8h0M593.6,349.8h0M596.7,349.8h0M599.9,349.8h0M603.1,349.8h0M606.3,349.9h0M609.5,349.9h0M612.7,349.9h0M615.9,350.0h0M619.1,350.5h0M622.3,350.1h0M625.4,349.8h0M628.6,349.7h0M631.8,349.7h0M635.0,349.7h0M638.2,349.7h0M641.4,349.7h0M644.6,349.8h0M647.8,349.9h0M651.0,350.0h0M654.1,350.1h0M657.3,350.3h0M660.5,350.9h0M663.7,351.5h0M666.9,351.6h0M670.1,351.6h0M673.3,351.6h0M676.5,351.6h0M679.7,351.3h0M682.8,350.5h0M686.0,350.6h0" fill="none" stroke="#ff6d14" stroke-width="3.4" stroke-linecap="round"/>
<text x="320.9" y="24.3" font-size="10.4" fill="#1a1a1a" text-anchor="middle" letter-spacing="1.25" stroke="#1a1a1a" stroke-width="0.3">871.5</text>
<line x1="319.6" y1="27.0" x2="319.6" y2="37.7" stroke="#2a2a2a" stroke-width="1.25" stroke-dasharray="2.4 0.6"/>
<text x="601.4" y="38.4" font-size="10.4" fill="#1a1a1a" text-anchor="middle" letter-spacing="1.25" stroke="#1a1a1a" stroke-width="0.3">1049</text>
<line x1="601.6" y1="38.9" x2="601.6" y2="43.6" stroke="#2a2a2a" stroke-width="1.25" stroke-dasharray="2.4 0.6"/>
<text x="602.4" y="75.0" font-size="10.4" fill="#1a1a1a" text-anchor="middle" letter-spacing="1.25" stroke="#1a1a1a" stroke-width="0.3">1049</text>
<line x1="601.6" y1="75.5" x2="601.6" y2="82.5" stroke="#2a2a2a" stroke-width="1.25" stroke-dasharray="2.4 0.6"/>
<text x="103.6" y="89.4" font-size="10.4" fill="#1a1a1a" text-anchor="middle" letter-spacing="1.25" stroke="#1a1a1a" stroke-width="0.3">734.8</text>
<text x="240.7" y="90.6" font-size="10.4" fill="#1a1a1a" text-anchor="middle" letter-spacing="1.25" stroke="#1a1a1a" stroke-width="0.3">820.8</text>
<line x1="239.6" y1="93.0" x2="239.6" y2="100.0" stroke="#2a2a2a" stroke-width="1.25" stroke-dasharray="2.4 0.6"/>
<text x="319.3" y="99.6" font-size="10.4" fill="#1a1a1a" text-anchor="middle" letter-spacing="1.25" stroke="#1a1a1a" stroke-width="0.3">869.9</text>
<line x1="317.9" y1="100.8" x2="317.9" y2="107.8" stroke="#2a2a2a" stroke-width="1.25" stroke-dasharray="2.4 0.6"/>
<text x="312.6" y="130.0" font-size="10.4" fill="#1a1a1a" text-anchor="middle" letter-spacing="1.25" stroke="#1a1a1a" stroke-width="0.3">865.3</text>
<text x="609.6" y="119.6" font-size="10.4" fill="#1a1a1a" text-anchor="middle" letter-spacing="1.25" stroke="#1a1a1a" stroke-width="0.3">1052</text>
<line x1="608.0" y1="121.3" x2="608.0" y2="133.0" stroke="#2a2a2a" stroke-width="1.25" stroke-dasharray="2.4 0.6"/>
<text x="608.6" y="159.0" font-size="10.4" fill="#1a1a1a" text-anchor="middle" letter-spacing="1.25" stroke="#1a1a1a" stroke-width="0.3">1052</text>
<line x1="608.0" y1="160.2" x2="608.0" y2="172.5" stroke="#2a2a2a" stroke-width="1.25" stroke-dasharray="2.4 0.6"/>
<text x="258.6" y="178.4" font-size="10.4" fill="#1a1a1a" text-anchor="middle" letter-spacing="1.25" stroke="#1a1a1a" stroke-width="0.3">831.0</text>
<text x="310.9" y="176.5" font-size="10.4" fill="#1a1a1a" text-anchor="middle" letter-spacing="1.25" stroke="#1a1a1a" stroke-width="0.3">865.3</text>
<text x="254.8" y="221.8" font-size="10.4" fill="#1a1a1a" text-anchor="middle" letter-spacing="1.25" stroke="#1a1a1a" stroke-width="0.3">829.5</text>
<line x1="253.1" y1="223.2" x2="253.1" y2="233.6" stroke="#222" stroke-width="1.3"/>
<text x="320.9" y="210.7" font-size="10.4" fill="#1a1a1a" text-anchor="middle" letter-spacing="1.25" stroke="#1a1a1a" stroke-width="0.3">871.5</text>
<line x1="319.8" y1="212.4" x2="319.8" y2="217.8" stroke="#2a2a2a" stroke-width="1.25" stroke-dasharray="2.4 0.6"/>
<text x="611.6" y="206.0" font-size="10.4" fill="#1a1a1a" text-anchor="middle" letter-spacing="1.25" stroke="#1a1a1a" stroke-width="0.3">1052</text>
<line x1="608.0" y1="209.5" x2="608.0" y2="217.8" stroke="#2a2a2a" stroke-width="1.25" stroke-dasharray="2.4 0.6"/>
<text x="321.5" y="252.4" font-size="10.4" fill="#1a1a1a" text-anchor="middle" letter-spacing="1.25" stroke="#1a1a1a" stroke-width="0.3">871.5</text>
<line x1="320.3" y1="254.8" x2="320.3" y2="263.0" stroke="#2a2a2a" stroke-width="1.25" stroke-dasharray="2.4 0.6"/>
<text x="609.4" y="254.8" font-size="10.4" fill="#1a1a1a" text-anchor="middle" letter-spacing="1.25" stroke="#1a1a1a" stroke-width="0.3">1052</text>
<line x1="608.0" y1="255.9" x2="608.0" y2="270.1" stroke="#2a2a2a" stroke-width="1.25" stroke-dasharray="2.4 0.6"/>
<text x="328.0" y="309.2" font-size="10.4" fill="#1a1a1a" text-anchor="middle" letter-spacing="1.25" stroke="#1a1a1a" stroke-width="0.3">877.1</text>
<line x1="383.5" y1="67.4" x2="397" y2="67.4" stroke="#000" stroke-width="2.6" stroke-linecap="round"/>
<text transform="translate(401.70,72.00) scale(1.140,1)" x="0" y="0" font-size="10.4" fill="#111" stroke="#111" stroke-width="0.28" textLength="101.40" lengthAdjust="spacing">20 mM U(VI) in H<tspan font-size="7">2</tspan>O</text>
<circle cx="346.6" cy="112" r="1.6" fill="#10f4ff"/>
<circle cx="351.6" cy="112" r="1.6" fill="#10f4ff"/>
<circle cx="356.6" cy="112" r="1.6" fill="#10f4ff"/>
<text transform="translate(362.20,116.00) scale(1.140,1)" x="0" y="0" font-size="10.4" fill="#111" stroke="#111" stroke-width="0.28" textLength="185.88" lengthAdjust="spacing">20 mM H<tspan font-size="7">2</tspan>O<tspan font-size="7">2</tspan>&#8201;and 20 mM U(VI) in H<tspan font-size="7">2</tspan>O</text>
<line x1="370.3" y1="157.2" x2="374.8" y2="157.2" stroke="#00ff00" stroke-width="3.8" stroke-linecap="round"/>
<line x1="380.6" y1="157.2" x2="383.4" y2="157.2" stroke="#00ff00" stroke-width="3.8" stroke-linecap="round"/>
<text transform="translate(387.80,161.40) scale(1.140,1)" x="0" y="0" font-size="10.4" fill="#111" stroke="#111" stroke-width="0.28" textLength="124.04" lengthAdjust="spacing">20 mM U(VI) in 5M NaCl</text>
<line x1="341.5" y1="199.3" x2="353.7" y2="199.3" stroke="#0000ff" stroke-width="2.8" stroke-linecap="round"/>
<text transform="translate(355.50,203.90) scale(1.140,1)" x="0" y="0" font-size="10.4" fill="#111" stroke="#111" stroke-width="0.28" textLength="202.63" lengthAdjust="spacing">20 mM U(VI) and 20 mM H<tspan font-size="7">2</tspan>O<tspan font-size="7">2</tspan> in 5M NaCl</text>
<line x1="345.3" y1="247.3" x2="357.7" y2="247.3" stroke="#ff0000" stroke-width="2.8" stroke-linecap="round"/>
<text transform="translate(359.30,252.70) scale(1.140,1)" x="0" y="0" font-size="10.4" fill="#111" stroke="#111" stroke-width="0.28" textLength="198.86" lengthAdjust="spacing">20 mM U(VI) and 20 mM H<tspan font-size="7">2</tspan>O<tspan font-size="7">2</tspan> in 5M NaBr</text>
<line x1="370.9" y1="294.2" x2="375.1" y2="294.2" stroke="#ff00ff" stroke-width="3.8" stroke-linecap="round"/>
<line x1="380.9" y1="294.2" x2="384" y2="294.2" stroke="#ff00ff" stroke-width="3.8" stroke-linecap="round"/>
<text transform="translate(388.70,298.80) scale(1.140,1)" x="0" y="0" font-size="10.4" fill="#111" stroke="#111" stroke-width="0.28" textLength="125.96" lengthAdjust="spacing">20 mM U(VI) in 5M NaBr</text>
<circle cx="393.0" cy="337.4" r="1.2" fill="#ff6d14"/>
<circle cx="398.2" cy="337.4" r="1.2" fill="#ff6d14"/>
<circle cx="403.4" cy="337.4" r="1.2" fill="#ff6d14"/>
<text transform="translate(408.30,341.60) scale(1.140,1)" x="0" y="0" font-size="10.4" fill="#111" stroke="#111" stroke-width="0.28" textLength="95.44" lengthAdjust="spacing">20 mM H<tspan font-size="7">2</tspan>O<tspan font-size="7">2</tspan> in H<tspan font-size="7">2</tspan>O</text>
</svg>
</body></html>
